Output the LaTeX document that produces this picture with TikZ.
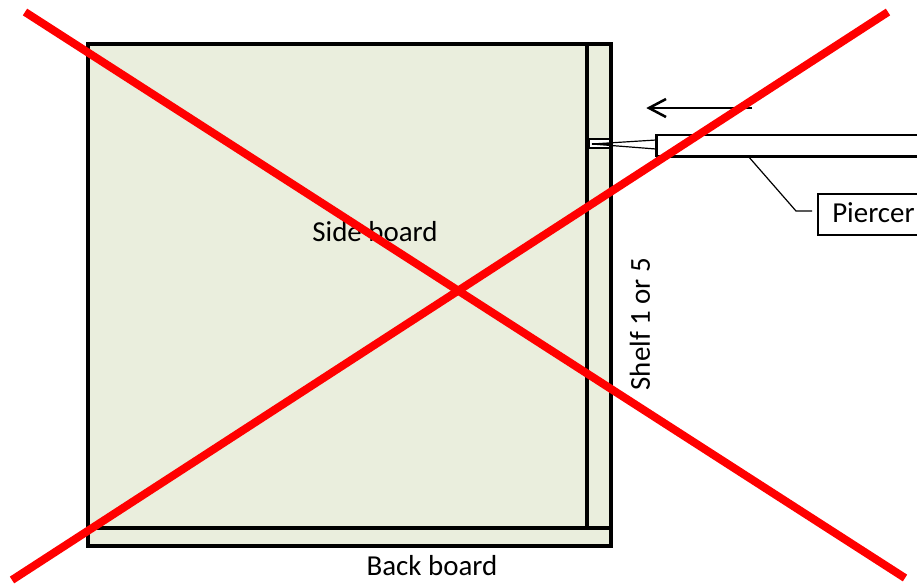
\documentclass[tikz,border=0pt]{standalone}
\usepackage{fontspec}
\setmainfont{Carlito}
\definecolor{boardfill}{HTML}{EAEEDD}
\definecolor{crossred}{HTML}{FF0000}
\tikzset{
  board/.style={draw=black, line width=2.9pt, fill=boardfill},
  thinbox/.style={draw=black, line width=1.2pt, fill=white, inner sep=0pt, anchor=north west},
  lbl/.style={font=\fontsize{21.7}{26}\selectfont, inner sep=0pt},
  cross/.style={draw=crossred, line width=6pt}
}
\begin{document}
\begin{tikzpicture}[x=0.75pt, y=-0.75pt]
  \clip (0,0) rectangle (917,583);
  % boards
  \draw[board] (88,44) rectangle (611,546);
  \draw[board] (88,44) rectangle (587,528);
  \draw[board] (587,528) -- (611,528);
  % hole in the shelf
  \node (hole) [thinbox, minimum width=17pt, minimum height=7pt] at (588,138) {};
  \draw[line width=2.9pt] (611,44) -- (611,546);
  % piercer
  \node (piercer) [thinbox, minimum width=225pt, minimum height=16pt] at (656,134) {};
  \draw[line width=1.9pt] (piercer.south west) -- (piercer.south east);
  \draw[line width=1.9pt] (piercer.north west) -- (piercer.south west);
  \coordinate (tip) at (592,144);
  \draw[line width=0.9pt] (656,140) -- (tip) -- (656,149);
  \draw[line width=1.6pt] (tip) -- (611,144);
  % direction arrow
  \coordinate (arrowstart) at (752,108);
  \coordinate (arrowend) at (649,108);
  \draw[line width=1.5pt] (arrowstart) -- (arrowend);
  \draw[line width=1.9pt] (666,99) -- (arrowend) -- (666,117);
  % label with leader
  \node (piercerlabel) [thinbox, line width=1.5pt, minimum width=110pt, minimum height=31pt] at (817,193) {};
  \node (piercertext) [lbl, anchor=base west] at (832,222) {Piercer};
  \coordinate (leaderfoot) at (748,156);
  \coordinate (leaderbend) at (796,211);
  \coordinate (leaderend) at (812,211);
  \draw[line width=0.9pt] (leaderfoot) -- (leaderbend) -- (leaderend);
  % texts
  \node (sidelabel) [lbl] at (375,232) {Side board};
  \node (backlabel) [lbl] at (432,566) {Back board};
  \node (shelflabel) [lbl, rotate=90] at (640,324) {Shelf 1 or 5};
  % cross
  \draw[cross] (25,12) -- (905,578);
  \draw[cross] (888,12) -- (12,580);
\end{tikzpicture}
\end{document}
